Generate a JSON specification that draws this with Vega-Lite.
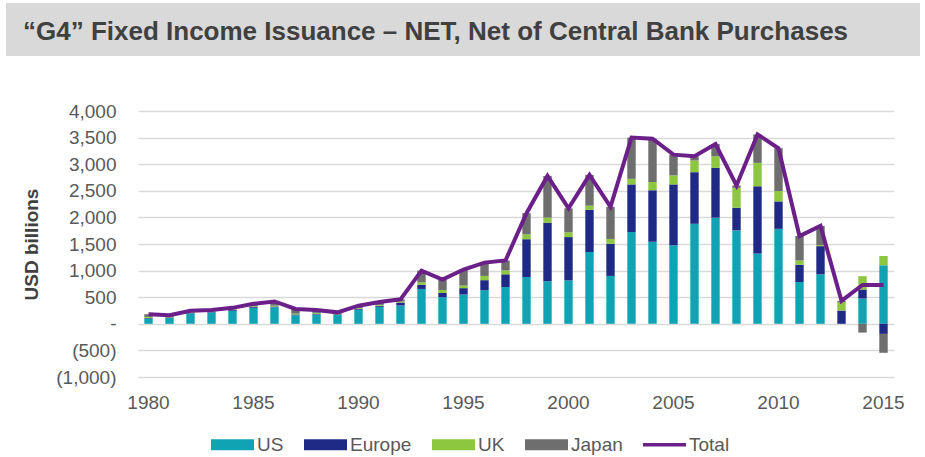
{
  "$schema": "https://vega.github.io/schema/vega-lite/v6.json",
  "width": 756,
  "height": 266,
  "autosize": {"type": "none"},
  "padding": {"left": 138, "top": 111, "right": 31, "bottom": 80},
  "background": "white",
  "title": {
    "text": "“G4” Fixed Income Issuance – NET, Net of Central Bank Purchases",
    "anchor": "end",
    "frame": "group",
    "align": "left",
    "baseline": "alphabetic",
    "dx": -871,
    "dy": 11,
    "offset": 47,
    "font": "Liberation Sans",
    "fontWeight": "bold",
    "fontSize": 26,
    "color": "#404040",
    "encode": {
      "group": {
        "update": {
          "fill": {"value": "#d9d9d9"},
          "stroke": {"value": "#d9d9d9"},
          "strokeWidth": {"value": 52},
          "strokeJoin": {"value": "miter"},
          "width": {"value": -862},
          "height": {"value": 1}
        }
      }
    }
  },
  "data": {
    "values": [
      {"year": 1980, "US": 100, "Europe": 10, "UK": 20, "Japan": 50},
      {"year": 1981, "US": 110, "Europe": 10, "UK": 10, "Japan": 30},
      {"year": 1982, "US": 200, "Europe": 10, "UK": 10, "Japan": 25},
      {"year": 1983, "US": 215, "Europe": 10, "UK": 10, "Japan": 25},
      {"year": 1984, "US": 245, "Europe": 15, "UK": 10, "Japan": 30},
      {"year": 1985, "US": 300, "Europe": 15, "UK": 15, "Japan": 45},
      {"year": 1986, "US": 310, "Europe": 15, "UK": 15, "Japan": 80},
      {"year": 1987, "US": 160, "Europe": 15, "UK": 15, "Japan": 90},
      {"year": 1988, "US": 175, "Europe": 15, "UK": 15, "Japan": 55},
      {"year": 1989, "US": 170, "Europe": 10, "UK": 10, "Japan": 25},
      {"year": 1990, "US": 265, "Europe": 15, "UK": 15, "Japan": 45},
      {"year": 1991, "US": 320, "Europe": 20, "UK": 15, "Japan": 55},
      {"year": 1992, "US": 345, "Europe": 55, "UK": 20, "Japan": 40},
      {"year": 1993, "US": 655, "Europe": 80, "UK": 45, "Japan": 220},
      {"year": 1994, "US": 500, "Europe": 80, "UK": 55, "Japan": 195},
      {"year": 1995, "US": 550, "Europe": 120, "UK": 50, "Japan": 300},
      {"year": 1996, "US": 630, "Europe": 190, "UK": 80, "Japan": 250},
      {"year": 1997, "US": 690, "Europe": 240, "UK": 75, "Japan": 185},
      {"year": 1998, "US": 880, "Europe": 710, "UK": 90, "Japan": 400},
      {"year": 1999, "US": 800, "Europe": 1100, "UK": 95, "Japan": 785},
      {"year": 2000, "US": 815, "Europe": 815, "UK": 90, "Japan": 450},
      {"year": 2001, "US": 1350, "Europe": 795, "UK": 75, "Japan": 580},
      {"year": 2002, "US": 900, "Europe": 605, "UK": 90, "Japan": 605},
      {"year": 2003, "US": 1725, "Europe": 895, "UK": 105, "Japan": 775},
      {"year": 2004, "US": 1540, "Europe": 970, "UK": 155, "Japan": 815},
      {"year": 2005, "US": 1475, "Europe": 1145, "UK": 170, "Japan": 390},
      {"year": 2006, "US": 1880, "Europe": 970, "UK": 220, "Japan": 80},
      {"year": 2007, "US": 1995, "Europe": 935, "UK": 220, "Japan": 230},
      {"year": 2008, "US": 1755, "Europe": 425, "UK": 375, "Japan": 45},
      {"year": 2009, "US": 1320, "Europe": 1265, "UK": 440, "Japan": 535},
      {"year": 2010, "US": 1785, "Europe": 515, "UK": 195, "Japan": 805},
      {"year": 2011, "US": 785, "Europe": 325, "UK": 80, "Japan": 460},
      {"year": 2012, "US": 930, "Europe": 530, "UK": 20, "Japan": 360},
      {"year": 2013, "US": 0, "Europe": 250, "UK": 160, "Japan": 20},
      {"year": 2014, "US": 475, "Europe": 170, "UK": 250, "Japan": -165},
      {"year": 2015, "US": 1100, "Europe": -190, "UK": 175, "Japan": -355}
    ]
  },
  "transform": [
    {"fold": ["US", "Europe", "UK", "Japan"], "as": ["region", "value"]},
    {"window": [{"op": "row_number", "as": "stackRank"}], "groupby": ["year"]}
  ],
  "encoding": {
    "x": {
      "field": "year",
      "type": "ordinal",
      "scale": {"paddingInner": 0.6, "paddingOuter": 0.3},
      "axis": {
        "values": [1980, 1985, 1990, 1995, 2000, 2005, 2010, 2015],
        "labelAngle": 0,
        "labelPadding": 16,
        "title": null,
        "grid": false
      }
    }
  },
  "layer": [
    {
      "mark": {"type": "bar"},
      "encoding": {
        "y": {
          "field": "value",
          "type": "quantitative",
          "stack": "zero",
          "scale": {"domain": [-1000, 4000], "nice": false},
          "axis": {
            "values": [-1000, -500, 0, 500, 1000, 1500, 2000, 2500, 3000, 3500, 4000],
            "labelExpr": "datum.value === 0 ? '-' : (datum.value < 0 ? '(' + format(-datum.value, ',') + ')' : format(datum.value, ','))",
            "labelOverlap": false,
            "labelPadding": 22,
            "grid": true,
            "title": "USD billions"
          }
        },
        "order": {"field": "stackRank", "type": "quantitative", "sort": "ascending"},
        "color": {
          "field": "region",
          "type": "nominal",
          "scale": {
            "domain": ["US", "Europe", "UK", "Japan", "Total"],
            "range": ["#0fa3b4", "#1f2a86", "#8dc63f", "#6e6e6e", "#6b1f88"]
          },
          "legend": {
            "orient": "none",
            "legendX": 73,
            "legendY": 312,
            "direction": "horizontal",
            "title": null,
            "labelFont": "Liberation Sans",
            "labelFontSize": 19,
            "labelColor": "#595959",
            "symbolSize": 1849,
            "labelOffset": 3,
            "columnPadding": 20,
            "encode": {
              "symbols": {
                "update": {
                  "shape": {"signal": "datum.value === 'Total' ? 'M-1,-0.08H1V0.08H-1Z' : 'M-1,-0.256H1V0.256H-1Z'"},
                  "fill": {"scale": "color", "field": "value"},
                  "stroke": {"value": "transparent"},
                  "strokeWidth": {"value": 0},
                  "opacity": {"value": 1}
                }
              }
            }
          }
        }
      }
    },
    {
      "mark": {"type": "rule", "color": "#808080", "strokeWidth": 3},
      "encoding": {
        "y": {
          "datum": 0,
          "type": "quantitative",
          "axis": {
            "values": [-1000, -500, 0, 500, 1000, 1500, 2000, 2500, 3000, 3500, 4000],
            "labelExpr": "datum.value === 0 ? '-' : (datum.value < 0 ? '(' + format(-datum.value, ',') + ')' : format(datum.value, ','))",
            "labelOverlap": false,
            "labelPadding": 22,
            "grid": true,
            "title": "USD billions"
          }
        }
      }
    },
    {
      "mark": {"type": "line", "strokeWidth": 4, "strokeJoin": "miter"},
      "encoding": {
        "y": {
          "aggregate": "sum",
          "field": "value",
          "type": "quantitative",
          "axis": {
            "values": [-1000, -500, 0, 500, 1000, 1500, 2000, 2500, 3000, 3500, 4000],
            "labelExpr": "datum.value === 0 ? '-' : (datum.value < 0 ? '(' + format(-datum.value, ',') + ')' : format(datum.value, ','))",
            "labelOverlap": false,
            "labelPadding": 22,
            "grid": true,
            "title": "USD billions"
          }
        },
        "color": {"datum": "Total"}
      }
    }
  ],
  "config": {
    "view": {"stroke": null},
    "axis": {
      "labelFont": "Liberation Sans",
      "labelFontSize": 19,
      "labelColor": "#595959",
      "domain": false,
      "ticks": false
    },
    "axisY": {
      "gridColor": "#d9d9d9",
      "gridWidth": 1.3,
      "titleFont": "Liberation Sans",
      "titleFontSize": 19,
      "titleFontWeight": "bold",
      "titleColor": "#404040",
      "titlePadding": 14
    }
  }
}
